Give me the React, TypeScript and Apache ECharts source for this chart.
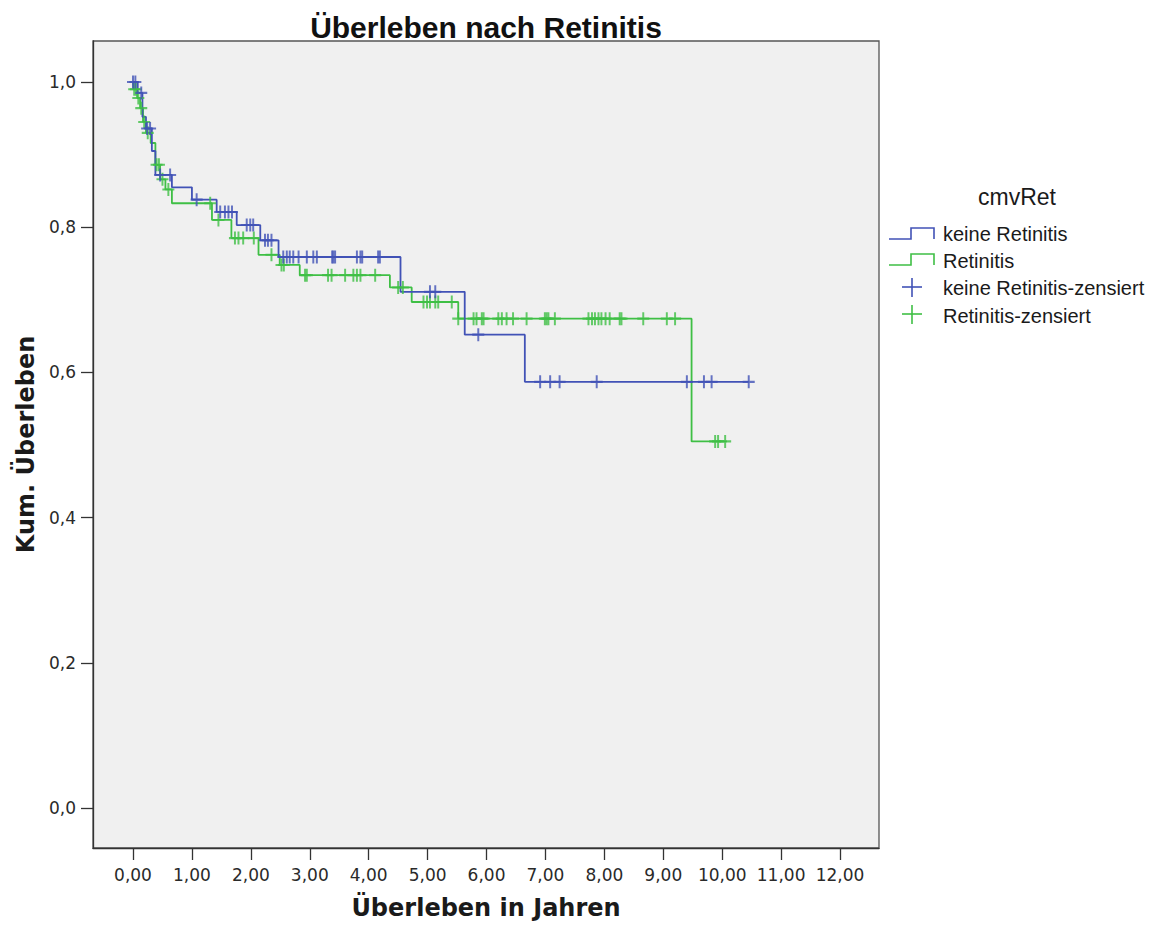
import React, { useEffect, useRef } from "react";
import * as echarts from "echarts";

// ---- data ----
const chartTitle = "Überleben nach Retinitis";
const xAxisName = "Überleben in Jahren";
const yAxisName = "Kum. Überleben";
const legendTitle = "cmvRet";
const groupNames = ["keine Retinitis", "Retinitis"];
const censorNames = ["keine Retinitis-zensiert", "Retinitis-zensiert"];

const xTicks = [0, 1, 2, 3, 4, 5, 6, 7, 8, 9, 10, 11, 12];
const yTicks = [0, 0.2, 0.4, 0.6, 0.8, 1.0];

// keine Retinitis: event times and survival after each event
const blueTimes = [0, 0.08, 0.16, 0.22, 0.32, 0.38, 0.66, 1.0, 1.42, 1.76, 2.16, 2.47, 4.54, 5.63, 6.65];
const blueSurv = [1.0, 0.985, 0.952, 0.936, 0.905, 0.872, 0.855, 0.838, 0.821, 0.803, 0.782, 0.759, 0.711, 0.652, 0.587];
const blueEnd = 10.45;
const blueCensor = [0.0, 0.04, 0.14, 0.24, 0.29, 0.46, 0.63, 1.08, 1.48, 1.56, 1.62, 1.68, 1.93, 1.99, 2.04, 2.24, 2.29, 2.35,
  2.55, 2.61, 2.66, 2.72, 2.81, 2.95, 3.06, 3.12, 3.38, 3.4, 3.43, 3.8, 3.86, 3.89, 4.16, 4.19, 5.04, 5.13, 5.86,
  6.91, 7.08, 7.24, 7.87, 9.4, 9.69, 9.82, 10.45];

// Retinitis
const greenTimes = [0, 0.01, 0.07, 0.12, 0.17, 0.22, 0.3, 0.38, 0.46, 0.55, 0.66, 1.34, 1.67, 2.13, 2.49, 2.83, 4.36, 4.73, 5.52, 9.48];
const greenSurv = [1.0, 0.99, 0.978, 0.964, 0.945, 0.93, 0.916, 0.886, 0.866, 0.852, 0.833, 0.81, 0.785, 0.762, 0.748, 0.734, 0.717, 0.697, 0.674, 0.505];
const greenEnd = 10.08;
const greenCensor = [0.02, 0.05, 0.09, 0.14, 0.19, 0.25, 0.4, 0.44, 0.5, 0.6, 1.31, 1.45, 1.73, 1.79, 1.87, 2.05, 2.35, 2.52, 2.56,
  2.92, 2.95, 3.31, 3.37, 3.6, 3.74, 3.8, 3.86, 4.11, 4.5, 4.58, 4.93, 4.99, 5.04, 5.13, 5.18, 5.41, 5.52, 5.78, 5.83,
  5.92, 5.95, 6.2, 6.26, 6.34, 6.45, 6.68, 6.99, 7.02, 7.05, 7.16, 7.73, 7.79, 7.84, 7.9, 7.95, 8.02, 8.09, 8.26, 8.29,
  8.66, 9.06, 9.2, 9.88, 9.93, 10.05];

const BLUE = "#4152b6";
const GREEN = "#3fbf45";

function stepData(times: number[], surv: number[], end: number) {
  const d = times.map((t, i) => [t, surv[i]]);
  d.push([end, surv[surv.length - 1]]);
  return d;
}
function survAt(times: number[], surv: number[], t: number) {
  let s = surv[0];
  for (let i = 0; i < times.length; i++) if (times[i] <= t) s = surv[i];
  return s;
}
function censorData(times: number[], surv: number[], c: number[]) {
  return c.map((t) => [t, survAt(times, surv, t)]);
}

const PLUS = "path://M4.6,0H6.4V4.6H11V6.4H6.4V11H4.6V6.4H0V4.6H4.6Z";
const tickFont = "DejaVu Sans";

export default function App() {
  const ref = useRef<HTMLDivElement>(null);
  useEffect(() => {
    if (!ref.current) return;
    const chart = echarts.init(ref.current, undefined, { renderer: "svg" });
    const legendText = (text: string, y: number) => ({
      type: "text",
      x: 943,
      y,
      style: { text, fontSize: 20, fontFamily: "Liberation Sans, Arial, sans-serif", fill: "#1a1a1a", align: "left", verticalAlign: "middle" },
    });
    chart.setOption({
      animation: false,
      backgroundColor: "#ffffff",
      grid: { left: 93, top: 41, right: 281, bottom: 84, show: true, backgroundColor: "#f0f0f0", borderColor: "#555", borderWidth: 1.3 },
      xAxis: {
        type: "value",
        min: -0.679,
        max: 12.661,
        name: xAxisName,
        nameLocation: "middle",
        nameGap: 48,
        nameTextStyle: { fontFamily: tickFont, fontWeight: "bold", fontSize: 24, color: "#1a1a1a" },
        axisLine: { show: true, onZero: false, lineStyle: { color: "#333", width: 1.3 } },
        axisTick: { show: true, customValues: xTicks, length: 12, lineStyle: { color: "#333", width: 1.3 } },
        axisLabel: {
          customValues: xTicks, margin: 18, fontFamily: tickFont, fontSize: 17, color: "#2a2a2a",
          formatter: (v: number) => v.toFixed(2).replace(".", ","),
        },
        splitLine: { show: false },
      },
      yAxis: {
        type: "value",
        min: -0.0551,
        max: 1.0565,
        name: yAxisName,
        nameLocation: "middle",
        nameGap: 52,
        nameTextStyle: { fontFamily: tickFont, fontWeight: "bold", fontSize: 24, color: "#1a1a1a" },
        axisLine: { show: true, onZero: false, lineStyle: { color: "#333", width: 1.3 } },
        axisTick: { show: true, customValues: yTicks, length: 12, lineStyle: { color: "#333", width: 1.3 } },
        axisLabel: {
          customValues: yTicks, margin: 17, fontFamily: tickFont, fontSize: 17, color: "#2a2a2a",
          formatter: (v: number) => v.toFixed(1).replace(".", ","),
        },
        splitLine: { show: false },
      },
      series: [
        { name: groupNames[0], type: "line", step: "end", symbol: "none", data: stepData(blueTimes, blueSurv, blueEnd), lineStyle: { color: BLUE, width: 1.8 }, z: 3 },
        { name: groupNames[1], type: "line", step: "end", symbol: "none", data: stepData(greenTimes, greenSurv, greenEnd), lineStyle: { color: GREEN, width: 1.8 }, z: 2 },
        { name: censorNames[0], type: "scatter", symbol: PLUS, symbolSize: [12, 13], itemStyle: { color: BLUE }, data: censorData(blueTimes, blueSurv, blueCensor), z: 4 },
        { name: censorNames[1], type: "scatter", symbol: PLUS, symbolSize: [12, 13], itemStyle: { color: GREEN }, data: censorData(greenTimes, greenSurv, greenCensor), z: 3 },
      ],
      graphic: [
        {
          type: "text", x: 486, y: 27,
          style: { text: chartTitle, fontSize: 30, fontWeight: "bold", fontFamily: "Liberation Sans, Arial, sans-serif", fill: "#111", align: "center", verticalAlign: "middle" },
        },
        {
          type: "text", x: 1017, y: 197,
          style: { text: legendTitle, fontSize: 23, fontFamily: "Liberation Sans, Arial, sans-serif", fill: "#1a1a1a", align: "center", verticalAlign: "middle" },
        },
        { type: "polyline", shape: { points: [[889, 239], [911, 239], [911, 228], [934, 228], [934, 239]] }, style: { stroke: BLUE, lineWidth: 1.6, fill: null } },
        { type: "polyline", shape: { points: [[889, 265], [911, 265], [911, 254], [934, 254], [934, 265]] }, style: { stroke: GREEN, lineWidth: 1.6, fill: null } },
        { type: "line", shape: { x1: 902, y1: 287, x2: 922, y2: 287 }, style: { stroke: BLUE, lineWidth: 1.6 } },
        { type: "line", shape: { x1: 912, y1: 278, x2: 912, y2: 297 }, style: { stroke: BLUE, lineWidth: 1.6 } },
        { type: "line", shape: { x1: 902, y1: 314, x2: 922, y2: 314 }, style: { stroke: GREEN, lineWidth: 1.6 } },
        { type: "line", shape: { x1: 912, y1: 305, x2: 912, y2: 324 }, style: { stroke: GREEN, lineWidth: 1.6 } },
        legendText(groupNames[0], 234),
        legendText(groupNames[1], 261),
        legendText(censorNames[0], 288),
        legendText(censorNames[1], 316),
      ],
    });
    return () => chart.dispose();
  }, []);
  return <div ref={ref} style={{ width: 1160, height: 932, position: "absolute", left: 0, top: 0 }} />;
}
